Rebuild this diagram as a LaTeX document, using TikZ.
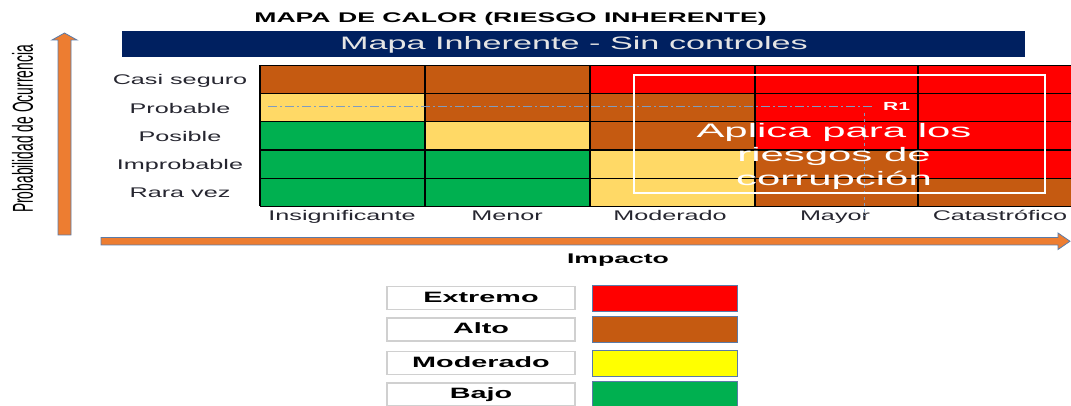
\documentclass[tikz,border=0pt]{standalone}
\usepackage{fontspec}
\setmainfont{Liberation Sans}

\definecolor{extremo}{HTML}{FF0000}
\definecolor{alto}{HTML}{C55A11}
\definecolor{moderado}{HTML}{FFD966}
\definecolor{amarillo}{HTML}{FFFF00}
\definecolor{bajo}{HTML}{00B050}
\definecolor{marino}{HTML}{002060}
\definecolor{naranja}{HTML}{ED7D31}
\definecolor{borde}{HTML}{5A7BA8}
\definecolor{guia}{HTML}{7F9CC0}
\definecolor{texto}{HTML}{262630}
\definecolor{gris}{HTML}{D0D0D0}

% the picture is stretched sideways
\newcommand{\ancho}[2][1.8]{\scalebox{#1}[1]{#2}}

\begin{document}
\begin{tikzpicture}[x=1pt, y=-1pt,
    etq/.style={anchor=base, text=texto, font=\fontsize{14}{16}\selectfont},
    eje/.style={fill=naranja, draw=borde, line width=0.8pt},
    leyenda/.style={draw=gris, line width=1.5pt, fill=white, minimum width=188pt,
      minimum height=23pt, text height=11pt, text depth=3pt, inner sep=0pt,
      font=\bfseries\fontsize{15}{17}\selectfont},
    muestra/.style={draw=borde, line width=1pt, minimum width=145pt,
      minimum height=26pt, inner sep=0pt}]
  \useasboundingbox (0,0) rectangle (1071,406);

  % Title
  \node[anchor=base, font=\bfseries\fontsize{14}{16}\selectfont] (titulo) at (510.5,23)
    {\ancho[1.9]{MAPA DE CALOR (RIESGO INHERENTE)}};
  \node[fill=marino, minimum width=903pt, minimum height=26pt, inner sep=0pt] (banda) at (573.5,44) {};
  \node[anchor=base, text=white!90!black, font=\fontsize{18}{20}\selectfont] (subtitulo) at (574,50)
    {\ancho[1.9]{Mapa Inherente - Sin controles}};

  % Cells
  \foreach \cols [count=\r from 0] in {{alto,alto,extremo,extremo,extremo},
      {moderado,alto,alto,extremo,extremo},
      {bajo,moderado,alto,extremo,extremo},
      {bajo,bajo,moderado,alto,extremo},
      {bajo,bajo,moderado,alto,alto}}
    \foreach \c [count=\k from 0] in \cols {
      \pgfmathsetmacro{\xa}{260+165*\k}
      \pgfmathsetmacro{\xb}{min(\xa+165,1071)}
      \fill[\c] (\xa,{65.5+28.2*\r}) rectangle (\xb,{93.7+28.2*\r});
    }
  \foreach \r in {0,...,5}
    \draw[line width=1.2pt] (260,{65.5+28.2*\r}) -- (1071,{65.5+28.2*\r});
  \foreach \x in {260,425,590,755,918}
    \draw[line width=1.2pt] (\x,65.5) -- (\x,206.5);

  % Labels
  \foreach \t [count=\r from 0] in {Casi seguro,Probable,Posible,Improbable,Rara vez}
    \node[etq] (fila\r) at (180,{85+28.2*\r}) {\ancho{\t}};
  \foreach \t/\x [count=\k] in {Insignificante/342,Menor/507,Moderado/670,Mayor/835,Catastrófico/1000}
    \node[etq] (col\k) at (\x,221) {\ancho{\t}};

  % Risk R1
  \node[anchor=base, text=white, font=\bfseries\fontsize{11.7}{13}\selectfont] (r1) at (896.5,110.7) {\ancho{R1}};
  \coordinate (inicio) at (268,107);
  \coordinate (cruce) at (864,113);
  \coordinate (pie) at (864,216);
  \draw[guia, line width=1pt, dash pattern=on 9pt off 3pt on 2pt off 3pt, shorten >=5pt]
    (inicio) -- (inicio -| r1.west);
  \draw[guia, line width=1pt, dash pattern=on 3pt off 3pt] (cruce) -- (pie);

  \node[draw=white, line width=1.5pt, minimum width=411pt, minimum height=118pt] (marco) at (839.5,134) {};
  \node[text=white, font=\fontsize{19.5}{24}\selectfont, align=center] (aplica) at (834,156.3)
    {\ancho[2.15]{Aplica para los}\\ \ancho[2.15]{riesgos de}\\ \ancho[2.15]{corrupción}};

  % Axes
  \draw[eje] (58,235) -- (58,40) -- (52,40) -- (64.5,33) -- (77,40) -- (71,40) -- (71,235) -- cycle;
  \draw[eje] (101,237.5) -- (1058,237.5) -- (1058,233) -- (1070,241.25) -- (1058,249.5)
    -- (1058,245) -- (101,245) -- cycle;
  \node[rotate=90, font=\fontsize{16}{18}\selectfont] (probab) at (22.5,129)
    {\scalebox{0.866}[1.8]{Probabilidad de Ocurrencia}};
  \node[anchor=base, font=\bfseries\fontsize{14}{16}\selectfont] (impacto) at (618,264) {\ancho[1.9]{Impacto}};

  % Legend
  \foreach \t/\c/\y [count=\k] in {Extremo/extremo/298,Alto/alto/329.5,Moderado/amarillo/363,Bajo/bajo/394.5} {
    \node[leyenda] (nivel\k) at (481,\y) {\ancho[1.92]{\t}};
    \node[muestra, fill=\c] (color\k) at (665,\y) {};
  }
\end{tikzpicture}
\end{document}
